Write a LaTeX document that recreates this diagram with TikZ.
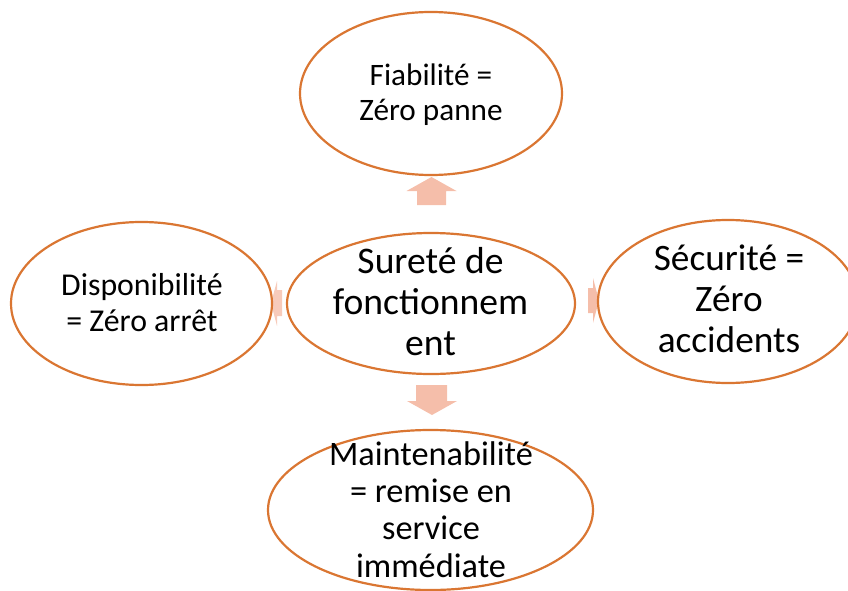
\documentclass[tikz,border=0pt]{standalone}
\usepackage{fontspec}
\setmainfont{Carlito}
\usetikzlibrary{shapes.geometric}
\definecolor{ringorange}{RGB}{218,118,50}
\definecolor{arrowpink}{RGB}{245,190,170}
\tikzset{
  oval/.style={ellipse, draw=ringorange, line width=2.2pt, fill=white, inner sep=0pt},
  lbl/.style={align=center, anchor=base, inner sep=0pt, text=black},
  blockarrow/.style={fill=arrowpink, draw=none}
}
\begin{document}
\begin{tikzpicture}[x=1pt, y=-1pt]
\useasboundingbox (0,0) rectangle (848,591);
\clip (0,0) rectangle (848,591);

% block arrows pointing outwards from the central notion
\fill[blockarrow] (417,205) -- (417,191) -- (406.5,191) -- (431.5,177) -- (456.5,191) -- (446,191) -- (446,205) -- cycle;
\fill[blockarrow] (416,385) -- (416,401) -- (407,401) -- (432,415) -- (457,401) -- (447,401) -- (447,385) -- cycle;
\fill[blockarrow] (588,288) -- (593,288) -- (593,278) -- (599,300.5) -- (593,323) -- (593,313) -- (588,313) -- cycle;
\fill[blockarrow, opacity=0.8] (282,290) -- (277,290) -- (277,281) -- (271,303) -- (277,326) -- (277,316) -- (282,316) -- cycle;

% ovals
\node[oval, minimum width=262pt, minimum height=163pt] (fiab) at (431,93.5) {};
\node[oval, minimum width=261pt, minimum height=163pt] (dispo) at (141.5,303.5) {};
\node[oval, minimum width=288pt, minimum height=141pt] (surete) at (431,303.5) {};
\node[oval, minimum width=260pt, minimum height=163pt] (secu) at (728,301.5) {};
\node[oval, minimum width=325pt, minimum height=160pt] (maint) at (430.5,510) {};

% labels (base anchor sits on the last line)
\node[lbl, font=\fontsize{31.2}{35}\selectfont] (tfiab) at (431,121) {Fiabilité =\\Zéro panne};
\node[lbl, font=\fontsize{31.8}{36}\selectfont] (tdispo) at (142,331) {Disponibilité\\= Zéro arrêt};
\node[lbl, font=\fontsize{37.6}{41}\selectfont] (tsurete) at (430.5,355) {Sureté de\\fonctionnem\\ent};
\node[lbl, font=\fontsize{37.3}{41}\selectfont] (tsecu) at (729,352) {Sécurité =\\Zéro\\accidents};
\node[lbl, font=\fontsize{34.3}{37.3}\selectfont] (tmaint) at (431,577) {Maintenabilité\\= remise en\\service\\immédiate};
\end{tikzpicture}
\end{document}
